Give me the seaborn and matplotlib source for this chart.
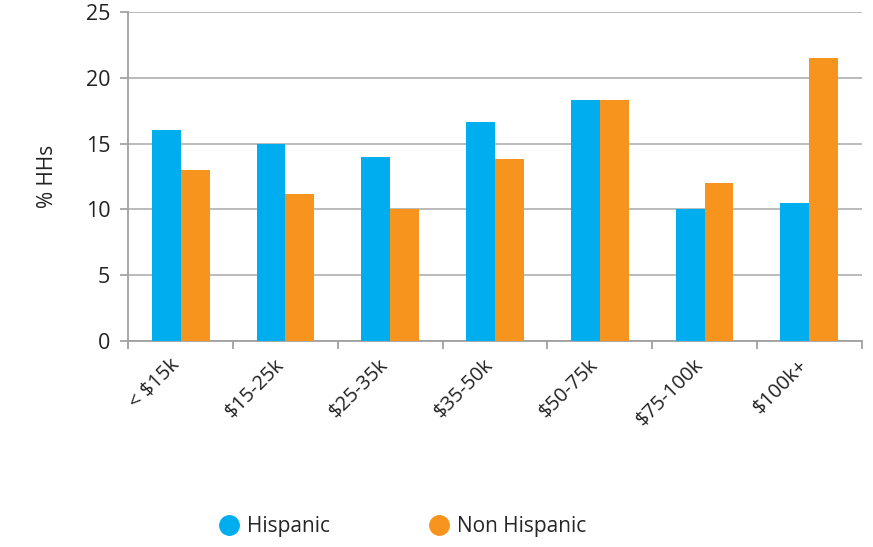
import numpy as np
import pandas as pd
import matplotlib
matplotlib.use("Agg")
import matplotlib.pyplot as plt
import matplotlib.transforms as mtransforms
from matplotlib.lines import Line2D
import seaborn as sns

income = ["< $15k", "$15-25k", "$25-35k", "$35-50k", "$50-75k", "$75-100k", "$100k+"]
hispanic = [16.0, 15.0, 14.0, 16.6, 18.3, 10.0, 10.5]
non_hispanic = [13.0, 11.2, 10.0, 13.8, 18.3, 12.0, 21.5]
groups = ["Hispanic", "Non Hispanic"]
colors = ["#00AEEF", "#F7941D"]

df = pd.DataFrame({
    "income": income * 2,
    "pct": hispanic + non_hispanic,
    "group": [groups[0]] * len(income) + [groups[1]] * len(income),
})

sns.set_theme(style="white")
plt.rcParams["font.family"] = ["Open Sans", "DejaVu Sans"]

fig = plt.figure(figsize=(8.73, 5.47), dpi=100)
ax = fig.add_axes([0.147, 0.377, 0.84, 0.601])

sns.barplot(data=df, x="income", y="pct", hue="group", palette=colors,
            width=0.55, saturation=1, linewidth=0, ax=ax, legend=False, zorder=3)

ax.set_ylim(0, 25)
ax.set_xlim(-0.5, len(income) - 0.5)
ax.set_yticks([0, 5, 10, 15, 20, 25])
ax.yaxis.grid(True, color="#B5B5B5", linewidth=1.3, zorder=0)
ax.set_axisbelow(True)

for s in ["top", "right"]:
    ax.spines[s].set_visible(False)
for s in ["left", "bottom"]:
    ax.spines[s].set_color("#A0A0A0")
    ax.spines[s].set_linewidth(1.3)

ax.tick_params(axis="y", which="major", left=True, length=6, color="#A0A0A0",
               labelsize=15.5, labelcolor="#222222", pad=7)
ax.set_xticks(np.arange(len(income)))
ax.set_xticklabels(income, rotation=45, ha="right", rotation_mode="anchor",
                   fontsize=14.5, color="#222222")
ax.tick_params(axis="x", which="major", length=0, pad=10)
shift = mtransforms.ScaledTranslation(-0.12, 0, fig.dpi_scale_trans)
for lbl in ax.get_xticklabels():
    lbl.set_transform(lbl.get_transform() + shift)
ax.set_xticks(np.arange(len(income) + 1) - 0.5, minor=True)
ax.tick_params(axis="x", which="minor", bottom=True, length=6, color="#A0A0A0", width=1.3)

ax.set_xlabel("")
ax.set_ylabel("% HHs", fontsize=15, color="#222222", labelpad=20)

handles = [Line2D([0], [0], marker="o", linestyle="", markersize=14,
                  markerfacecolor=c, markeredgecolor=c) for c in colors]
fig.legend(handles, groups, loc="center", bbox_to_anchor=(0.455, 0.037), ncol=2,
           frameon=False, fontsize=15, handletextpad=-0.1, columnspacing=4.2)

fig.savefig("out.png", dpi=100)
